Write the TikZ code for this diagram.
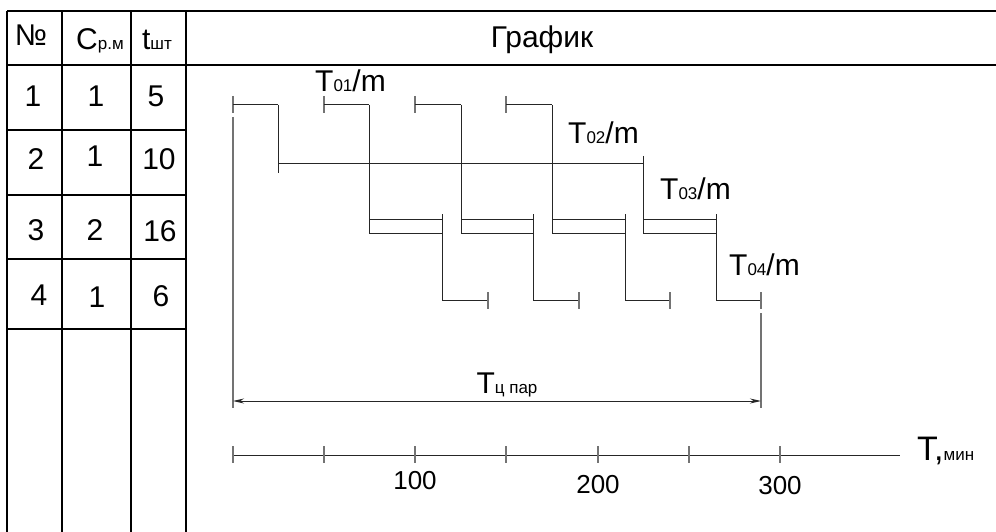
\documentclass[tikz,border=0pt]{standalone}
\usepackage{fontspec}
\setmainfont{Liberation Sans}
\usetikzlibrary{arrows.meta}
\newcommand{\bigfs}{\fontsize{30}{36}\selectfont}
\newcommand{\subfs}{\fontsize{17}{20}\selectfont}
\newcommand{\midfs}{\fontsize{26}{30}\selectfont}
\newcommand{\axfs}{\fontsize{34}{40}\selectfont}
\begin{document}
\begin{tikzpicture}[x=1pt,y=-1pt,
  tbl/.style={line width=1.4pt,black},
  gl/.style={line width=1pt,black!85},
  tk/.style={line width=1.5pt,black!55},
  txt/.style={inner sep=0pt,anchor=base,font=\bigfs},
  lbl/.style={inner sep=0pt,anchor=base west,font=\bigfs},
  num/.style={inner sep=0pt,anchor=center,font=\midfs},
  dimarrows/.style={{Stealth[length=11pt,width=5pt]}-{Stealth[length=11pt,width=5pt]}}]
\useasboundingbox (0,0) rectangle (996,532);
% ---- table ----
\draw[tbl] (7,11) -- (996,11);
\draw[tbl] (7,65) -- (996,65);
\foreach \yy in {130,195,259,329} \draw[tbl] (7,\yy) -- (186,\yy);
\foreach \xx in {7,62,131,186} \draw[tbl] (\xx,11) -- (\xx,532);
\node[txt] (hno) at (31,46) {№};
\node[txt] (hc) at (100,50) {C{\subfs р.м}};
\node[txt] (ht) at (157,50) {t{\subfs шт}};
\node[txt] (hg) at (542,48) {График};
\node[txt] (a1) at (33,107) {1};
\node[txt] (b1) at (96,107) {1};
\node[txt] (c1) at (156,107) {5};
\node[txt] (a2) at (36,170) {2};
\node[txt] (b2) at (95,166) {1};
\node[txt] (c2) at (159,170) {10};
\node[txt] (a3) at (36,240) {3};
\node[txt] (b3) at (95,240) {2};
\node[txt] (c3) at (160,241) {16};
\node[txt] (a4) at (39,305) {4};
\node[txt] (b4) at (97,307) {1};
\node[txt] (c4) at (161,306) {6};
% ---- operation 1 ----
\foreach \s/\e in {233/278,324/369,415/461,506/552} {
  \draw[tk] (\s,96) -- (\s,113);
  \draw[gl] (\s,105) -- (\e,105);
}
\draw[gl] (278,105) -- (278,173);
\foreach \e in {369,461,552} \draw[gl] (\e,105) -- (\e,233);
% ---- operation 2 ----
\draw[gl] (278,164) -- (643,164);
\draw[gl] (643,156) -- (643,233);
% ---- operation 3 ----
\foreach \s/\e in {369/442,461/533,552/625,643/716} {
  \draw[gl] (\s,219) -- (\e,219);
  \draw[gl] (\s,233) -- (\e,233);
  \draw[gl] (\e,214) -- (\e,300);
}
% ---- operation 4 ----
\foreach \s/\e in {442/488,533/579,625/670,716/761} {
  \draw[gl] (\s,300) -- (\e,300);
  \draw[tk] (\e,292) -- (\e,309);
}
% ---- labels ----
\node[lbl] (l1) at (315,92) {T{\subfs 01}/m};
\node[lbl] (l2) at (568,143) {T{\subfs 02}/m};
\node[lbl] (l3) at (660,200) {T{\subfs 03}/m};
\node[lbl] (l4) at (729,275) {T{\subfs 04}/m};
% ---- dimension ----
\coordinate (dL) at (233,401);
\coordinate (dR) at (761,401);
\draw[tk] (233,117) -- (233,408);
\draw[tk] (761,313) -- (761,408);
\draw[gl,dimarrows] (dL) -- (dR);
\node[txt] (tc) at (507,393) {T{\subfs ц пар}};
% ---- axis ----
\coordinate (ax0) at (233,455);
\coordinate (ax1) at (900,455);
\draw[gl] (ax0) -- (ax1);
\foreach \xx in {233,324,415,506,598,689,780} \draw[tk] (\xx,446) -- (\xx,463);
\node[num] (n100) at (415,481) {100};
\node[num] (n200) at (598,485) {200};
\node[num] (n300) at (780,486) {300};
\node[inner sep=0pt,anchor=base west,font=\axfs] (tax) at (917,460) {T,{\subfs мин}};
\end{tikzpicture}
\end{document}
